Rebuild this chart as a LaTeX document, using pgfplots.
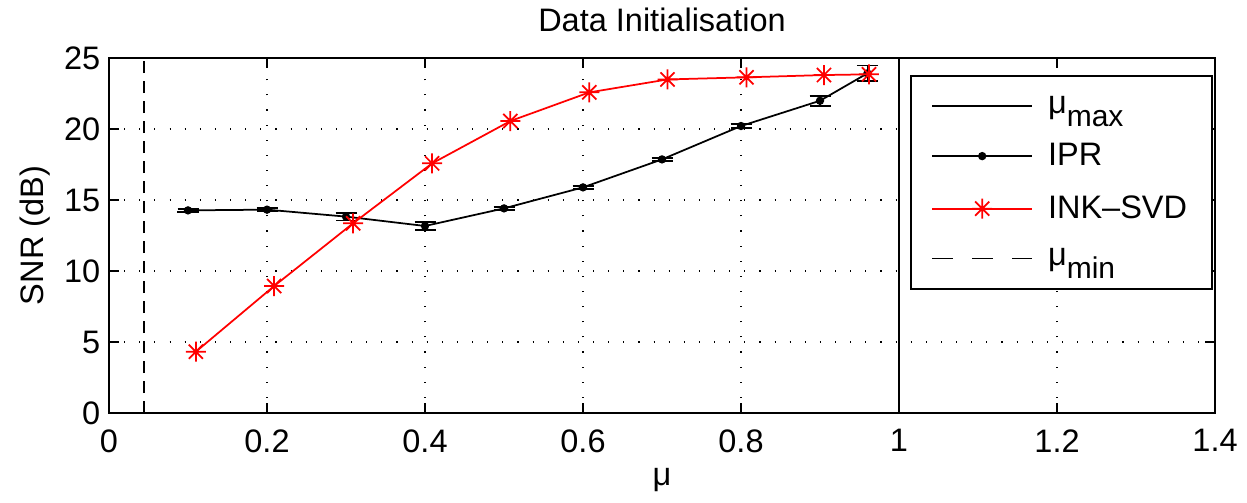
\documentclass[border=0pt]{standalone}
\usepackage{fontspec}
\setmainfont{Liberation Sans}
\usepackage{pgfplots}
\usepackage{pgfplotstable}
\pgfplotsset{compat=1.18}

% MATLAB-like '*' marker: a plus and a cross
\pgfdeclareplotmark{mstar}{%
  \pgfpathmoveto{\pgfpoint{0pt}{\pgfplotmarksize}}%
  \pgfpathlineto{\pgfpoint{0pt}{-\pgfplotmarksize}}%
  \pgfpathmoveto{\pgfpoint{\pgfplotmarksize}{0pt}}%
  \pgfpathlineto{\pgfpoint{-\pgfplotmarksize}{0pt}}%
  \pgfpathmoveto{\pgfpoint{0.707\pgfplotmarksize}{0.707\pgfplotmarksize}}%
  \pgfpathlineto{\pgfpoint{-0.707\pgfplotmarksize}{-0.707\pgfplotmarksize}}%
  \pgfpathmoveto{\pgfpoint{-0.707\pgfplotmarksize}{0.707\pgfplotmarksize}}%
  \pgfpathlineto{\pgfpoint{0.707\pgfplotmarksize}{-0.707\pgfplotmarksize}}%
  \pgfusepathqstroke}

\pgfplotstableread{
x     y      err
0.10  14.27  0.10
0.20  14.32  0.12
0.30  13.83  0.28
0.40  13.17  0.30
0.50  14.41  0.10
0.60  15.89  0.10
0.70  17.86  0.10
0.80  20.21  0.15
0.90  21.99  0.36
0.96  23.92  0.56
}\iprdata

\pgfplotstableread{
x      y
0.110  4.32
0.209  8.94
0.309  13.36
0.409  17.58
0.508  20.56
0.608  22.58
0.707  23.49
0.807  23.64
0.905  23.80
0.962  23.85
}\inkdata

\newcommand{\sub}[1]{\raisebox{-0.4em}{\fontsize{12}{14}\selectfont #1}}

\begin{document}
\begin{tikzpicture}[font=\fontsize{13}{15.6}\selectfont]
\begin{axis}[
  scale only axis, width=442.4pt, height=142pt,
  xmin=0, xmax=1.4, ymin=0, ymax=25,
  xtick={0,0.2,0.4,0.6,0.8,1,1.2,1.4},
  ytick={0,5,10,15,20,25},
  /pgf/number format/assume math mode=true,
  tick align=inside, major tick length=4pt,
  tick style={black, line width=0.5pt},
  axis line style={line width=0.6pt},
  xmajorgrids, ymajorgrids,
  grid style={black, line width=0.45pt, dash pattern=on 0.45pt off 5.6pt},
  xticklabel style={yshift=-3pt},
  title={Data Initialisation},
  every axis title/.style={at={(axis description cs:0.5,1.107)}, anchor=center},
  xlabel={μ},
  every axis x label/.style={at={(axis description cs:0.5,-0.189)}, anchor=center},
  ylabel={SNR (dB)},
  every axis y label/.style={at={(axis description cs:-0.0669,0.5)}, anchor=center, rotate=90},
  legend cell align=left,
  legend style={at={(1,1)}, anchor=north east, xshift=-0.8pt, yshift=-6.8pt,
    draw=black, line width=0.7pt, inner xsep=8pt, inner ysep=6pt,
    nodes={inner xsep=2pt, inner ysep=2pt}, column sep=4pt, row sep=6.5pt},
  legend image code/.code={\draw[mark repeat=2,mark phase=2,#1] plot coordinates {(0pt,0pt) (20pt,0pt) (40pt,0pt)};},
]
\addplot[black, line width=0.7pt] coordinates {(1,0) (1,25)};
\addlegendentry{μ\sub{max}}
\addplot[black, line width=0.7pt, mark=*, mark size=1.3pt,
  error bars/.cd, y dir=both, y explicit,
  error bar style={line width=0.7pt},
  error mark options={rotate=90, black, mark size=4.2pt, line width=0.7pt}]
  table[x=x, y=y, y error=err] {\iprdata};
\addlegendentry{IPR}
\addplot[red, line width=0.7pt, mark=mstar, mark size=4pt] table[x=x, y=y] {\inkdata};
\addlegendentry{INK--SVD}
\addplot[black, line width=0.7pt, dash pattern=on 4.8pt off 3.2pt,
  legend image post style={dash pattern=on 8.4pt off 7.6pt}] coordinates {(0.044,0) (0.044,25)};
\addlegendentry{μ\sub{min}}
\end{axis}
\pgfresetboundingbox
\path[use as bounding box] (current axis.south west) ++(-43.6pt,-35.6pt) rectangle ([shift={(12.8pt,23.2pt)}]current axis.north east);
\end{tikzpicture}
\end{document}
